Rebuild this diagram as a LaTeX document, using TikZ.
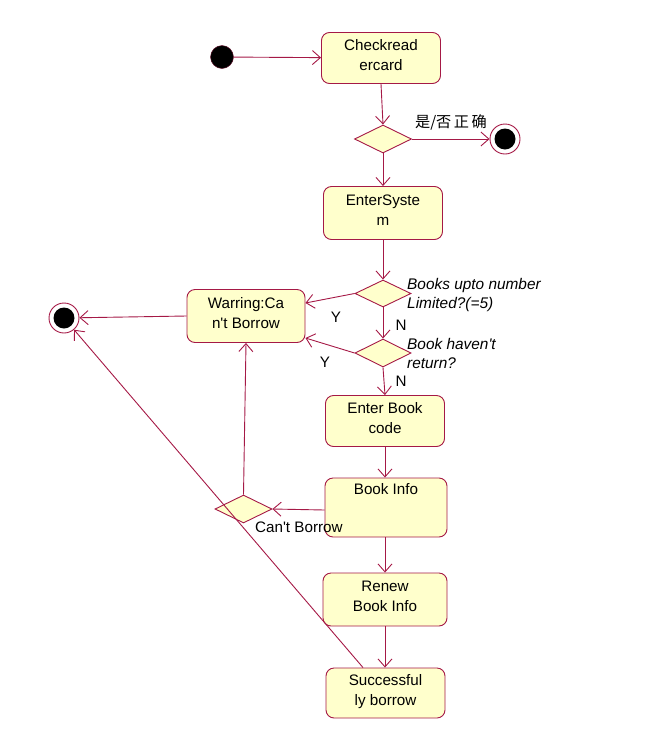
\documentclass[tikz,border=0pt]{standalone}
\usepackage{fontspec}
\setmainfont[Ligatures=TeXOff]{Liberation Sans}
\newfontfamily\cjk{Noto Sans CJK SC}
\usetikzlibrary{shapes.geometric,arrows.meta}
\definecolor{umlline}{RGB}{165,25,70}
\definecolor{umlfill}{RGB}{255,255,204}
\begin{document}
\begin{tikzpicture}[x=1pt,y=-1pt,
  font=\fontsize{15.2}{20}\selectfont,
  act/.style={draw=umlline,fill=umlfill,line width=0.9pt,rounded corners=8pt,
    align=center,inner sep=0pt,text depth=6pt},
  dec/.style={draw=umlline,fill=umlfill,line width=0.9pt,diamond,inner sep=0pt,
    minimum width=57pt,minimum height=28pt},
  flow/.style={draw=umlline,line width=0.9pt,-{Straight Barb[length=8pt,width=14pt,line width=0.9pt]}},
  lbl/.style={inner sep=0pt,align=left},
  finalnode/.style={circle,draw=umlline,fill=white,line width=0.9pt,minimum size=30pt,inner sep=0pt,
    path picture={\fill[black] (path picture bounding box.center) circle (10.5pt);}}]
\useasboundingbox (0,0) rectangle (668,753);

% start and end states
\node[circle,fill=black,draw=umlline!60!black,minimum size=23pt,inner sep=0pt] (start) at (222,57) {};
\node[finalnode] (fin1) at (505,139) {};
\node[finalnode] (fin2) at (64,318) {};

% activities
\node[act,minimum width=119pt,minimum height=51pt] (check) at (381,58) {Checkread\\ercard};
\node[act,minimum width=119pt,minimum height=53pt] (sys) at (383,213) {EnterSyste\\m};
\node[act,minimum width=118pt,minimum height=53pt] (warn) at (246,316) {Warring:Ca\\n't Borrow};
\node[act,minimum width=119pt,minimum height=51pt] (code) at (385,421) {Enter Book\\code};
\node[act,minimum width=122pt,minimum height=59pt] (info) at (386,507.5) {};
\node[lbl] (infotxt) at (386,489) {Book Info};
\node[act,minimum width=124pt,minimum height=53pt] (renew) at (385,599.5) {Renew\\Book Info};
\node[act,minimum width=119pt,minimum height=50pt] (succ) at (385.5,693) {Successful\\ly borrow};

% decisions
\node[dec] (d1) at (383,139) {};
\node[dec,minimum width=56pt,minimum height=27pt] (d2) at (383,293.5) {};
\node[dec,minimum width=56pt,minimum height=28pt] (d3) at (383,353) {};
\node[dec] (d4) at (243.5,509) {};

% guard and condition labels
\node[lbl] (ok) at (451,122) {\cjk 是/否\,正\,确};
\node[lbl,anchor=west,font=\fontsize{15.4}{19}\selectfont\itshape] (q1) at (407,295) {Books upto number\\Limited?(=5)};
\node[lbl,anchor=west,font=\fontsize{15.4}{19}\selectfont\itshape] (q2) at (407,353) {Book haven't\\return?};
\node[lbl] (y1) at (336,317) {Y};
\node[lbl] (n1) at (401,325) {N};
\node[lbl] (y2) at (325,362) {Y};
\node[lbl] (n2) at (401,381) {N};
\node[lbl,anchor=west] (cb) at (255,527) {Can't Borrow};

% control flow
\draw[flow] (start) -- (check);
\draw[flow] (check.south) -- (d1.north);
\draw[flow] (d1.east) -- (fin1);
\draw[flow] (d1.south) -- (sys.north);
\draw[flow] (sys.south) -- (d2.north);
\draw[flow] (d2.west) -- ([yshift=13pt]warn.east);
\draw[flow] (d2.south) -- (d3.north);
\draw[flow] (d3.west) -- ([yshift=-22pt]warn.east);
\draw[flow] (d3.south) -- (code.north);
\draw[flow] (code.south) -- ([xshift=-1pt]info.north);
\draw[flow] ([yshift=-2.5pt]info.west) -- (d4.east);
\draw[flow] (d4.north) -- (warn.south);
\draw[flow] (warn.west) -- (fin2);
\draw[flow] ([xshift=-1pt]info.south) -- (renew.north);
\draw[flow] (renew.south) -- ([xshift=-0.5pt]succ.north);
\draw[flow] ([xshift=-22.5pt]succ.north) -- (fin2);
\end{tikzpicture}
\end{document}
